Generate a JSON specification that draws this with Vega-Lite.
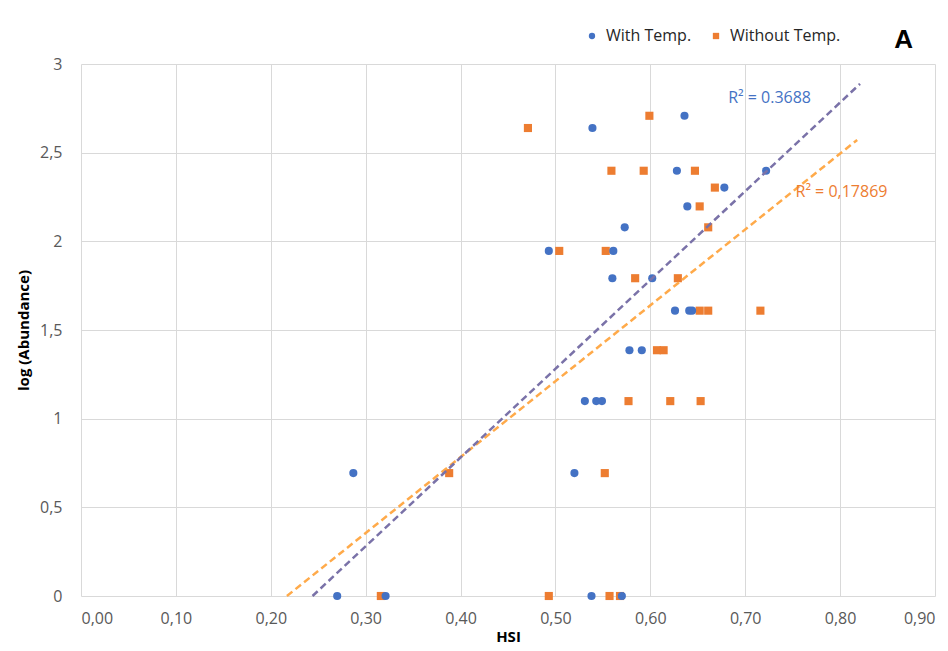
{
  "$schema": "https://vega.github.io/schema/vega-lite/v6.json",
  "width": 854,
  "height": 532,
  "autosize": {"type": "none"},
  "padding": {"left": 81, "top": 64, "right": 13, "bottom": 55},
  "background": "white",
  "config": {
    "font": "Open Sans",
    "view": {"stroke": null},
    "axis": {"gridColor": "#d9d9d9", "gridWidth": 1, "domain": false, "ticks": false, "labelColor": "#595959", "labelFontSize": 16, "labelFont": "Open Sans", "titleFont": "Open Sans", "titleFontWeight": "bold", "titleFontSize": 15, "titleColor": "black"}
  },
  "datasets": {
    "pts": [
      {"series": "Without Temp.", "hsi": 0.471, "abund": 2.639},
      {"series": "Without Temp.", "hsi": 0.599, "abund": 2.708},
      {"series": "Without Temp.", "hsi": 0.559, "abund": 2.398},
      {"series": "Without Temp.", "hsi": 0.593, "abund": 2.398},
      {"series": "Without Temp.", "hsi": 0.647, "abund": 2.398},
      {"series": "Without Temp.", "hsi": 0.668, "abund": 2.303},
      {"series": "Without Temp.", "hsi": 0.652, "abund": 2.197},
      {"series": "Without Temp.", "hsi": 0.661, "abund": 2.079},
      {"series": "Without Temp.", "hsi": 0.504, "abund": 1.946},
      {"series": "Without Temp.", "hsi": 0.553, "abund": 1.946},
      {"series": "Without Temp.", "hsi": 0.584, "abund": 1.792},
      {"series": "Without Temp.", "hsi": 0.629, "abund": 1.792},
      {"series": "Without Temp.", "hsi": 0.652, "abund": 1.609},
      {"series": "Without Temp.", "hsi": 0.661, "abund": 1.609},
      {"series": "Without Temp.", "hsi": 0.716, "abund": 1.609},
      {"series": "Without Temp.", "hsi": 0.607, "abund": 1.386},
      {"series": "Without Temp.", "hsi": 0.614, "abund": 1.386},
      {"series": "Without Temp.", "hsi": 0.577, "abund": 1.099},
      {"series": "Without Temp.", "hsi": 0.621, "abund": 1.099},
      {"series": "Without Temp.", "hsi": 0.653, "abund": 1.099},
      {"series": "Without Temp.", "hsi": 0.388, "abund": 0.693},
      {"series": "Without Temp.", "hsi": 0.552, "abund": 0.693},
      {"series": "Without Temp.", "hsi": 0.316, "abund": 0},
      {"series": "Without Temp.", "hsi": 0.493, "abund": 0},
      {"series": "Without Temp.", "hsi": 0.557, "abund": 0},
      {"series": "Without Temp.", "hsi": 0.568, "abund": 0},
      {"series": "With Temp.", "hsi": 0.539, "abund": 2.639},
      {"series": "With Temp.", "hsi": 0.636, "abund": 2.708},
      {"series": "With Temp.", "hsi": 0.628, "abund": 2.398},
      {"series": "With Temp.", "hsi": 0.722, "abund": 2.398},
      {"series": "With Temp.", "hsi": 0.678, "abund": 2.303},
      {"series": "With Temp.", "hsi": 0.639, "abund": 2.197},
      {"series": "With Temp.", "hsi": 0.573, "abund": 2.079},
      {"series": "With Temp.", "hsi": 0.493, "abund": 1.946},
      {"series": "With Temp.", "hsi": 0.561, "abund": 1.946},
      {"series": "With Temp.", "hsi": 0.560, "abund": 1.792},
      {"series": "With Temp.", "hsi": 0.602, "abund": 1.792},
      {"series": "With Temp.", "hsi": 0.626, "abund": 1.609},
      {"series": "With Temp.", "hsi": 0.641, "abund": 1.609},
      {"series": "With Temp.", "hsi": 0.644, "abund": 1.609},
      {"series": "With Temp.", "hsi": 0.578, "abund": 1.386},
      {"series": "With Temp.", "hsi": 0.591, "abund": 1.386},
      {"series": "With Temp.", "hsi": 0.531, "abund": 1.099},
      {"series": "With Temp.", "hsi": 0.543, "abund": 1.099},
      {"series": "With Temp.", "hsi": 0.549, "abund": 1.099},
      {"series": "With Temp.", "hsi": 0.287, "abund": 0.693},
      {"series": "With Temp.", "hsi": 0.520, "abund": 0.693},
      {"series": "With Temp.", "hsi": 0.270, "abund": 0},
      {"series": "With Temp.", "hsi": 0.321, "abund": 0},
      {"series": "With Temp.", "hsi": 0.538, "abund": 0},
      {"series": "With Temp.", "hsi": 0.570, "abund": 0}
    ],
    "trendWith": [
      {"hsi": 0.244, "abund": 0},
      {"hsi": 0.821, "abund": 2.888}
    ],
    "trendWithout": [
      {"hsi": 0.217, "abund": 0},
      {"hsi": 0.818, "abund": 2.572}
    ],
    "r2With": [{"hsi": 0.682, "abund": 2.809, "label": "R² = 0.3688"}],
    "r2Without": [{"hsi": 0.753, "abund": 2.279, "label": "R² = 0,17869"}],
    "panel": [{"hsi": 0.857, "abund": 3.136, "label": "A"}]
  },
  "layer": [
    {
      "data": {"name": "pts"},
      "mark": {"type": "point", "filled": true, "opacity": 1, "size": 66},
      "encoding": {
        "x": {"field": "hsi", "type": "quantitative", "scale": {"domain": [0, 0.9], "nice": false, "zero": false}, "axis": {"title": "HSI", "values": [0, 0.1, 0.2, 0.3, 0.4, 0.5, 0.6, 0.7, 0.8, 0.9], "labelExpr": "replace(format(datum.value, '.2f'), '.', ',')", "labelPadding": 14, "titlePadding": 3}},
        "y": {"field": "abund", "type": "quantitative", "scale": {"domain": [0, 3], "nice": false}, "axis": {"title": "log (Abundance)", "values": [0, 0.5, 1, 1.5, 2, 2.5, 3], "labelExpr": "replace(format(datum.value, '~g'), '.', ',')", "labelPadding": 19, "titlePadding": 8}},
        "color": {"field": "series", "type": "nominal", "scale": {"domain": ["With Temp.", "Without Temp."], "range": ["#4472C4", "#ED7D31"]}, "legend": {"title": null, "orient": "none", "direction": "horizontal", "legendX": 503, "legendY": -36, "labelFontSize": 16, "labelColor": "#262626", "labelFont": "Open Sans", "symbolSize": 40, "columnPadding": 16, "labelOffset": 6}},
        "shape": {"field": "series", "type": "nominal", "scale": {"domain": ["With Temp.", "Without Temp."], "range": ["circle", "square"]}}
      }
    },
    {
      "data": {"name": "trendWithout"},
      "mark": {"type": "line", "color": "#FFAA4A", "strokeWidth": 2.5, "strokeDash": [7, 4]},
      "encoding": {"x": {"field": "hsi", "type": "quantitative"}, "y": {"field": "abund", "type": "quantitative"}}
    },
    {
      "data": {"name": "trendWith"},
      "mark": {"type": "line", "color": "#7A72A8", "strokeWidth": 2.5, "strokeDash": [7, 4]},
      "encoding": {"x": {"field": "hsi", "type": "quantitative"}, "y": {"field": "abund", "type": "quantitative"}}
    },
    {
      "data": {"name": "r2With"},
      "mark": {"type": "text", "align": "left", "baseline": "middle", "fontSize": 16, "color": "#4472C4", "font": "Open Sans"},
      "encoding": {"x": {"field": "hsi", "type": "quantitative"}, "y": {"field": "abund", "type": "quantitative"}, "text": {"field": "label"}}
    },
    {
      "data": {"name": "r2Without"},
      "mark": {"type": "text", "align": "left", "baseline": "middle", "fontSize": 16, "color": "#ED7D31", "font": "Open Sans"},
      "encoding": {"x": {"field": "hsi", "type": "quantitative"}, "y": {"field": "abund", "type": "quantitative"}, "text": {"field": "label"}}
    },
    {
      "data": {"name": "panel"},
      "mark": {"type": "text", "align": "left", "baseline": "middle", "fontSize": 26, "fontWeight": "bold", "color": "black", "font": "Liberation Sans"},
      "encoding": {"x": {"field": "hsi", "type": "quantitative"}, "y": {"field": "abund", "type": "quantitative"}, "text": {"field": "label"}}
    }
  ]
}
